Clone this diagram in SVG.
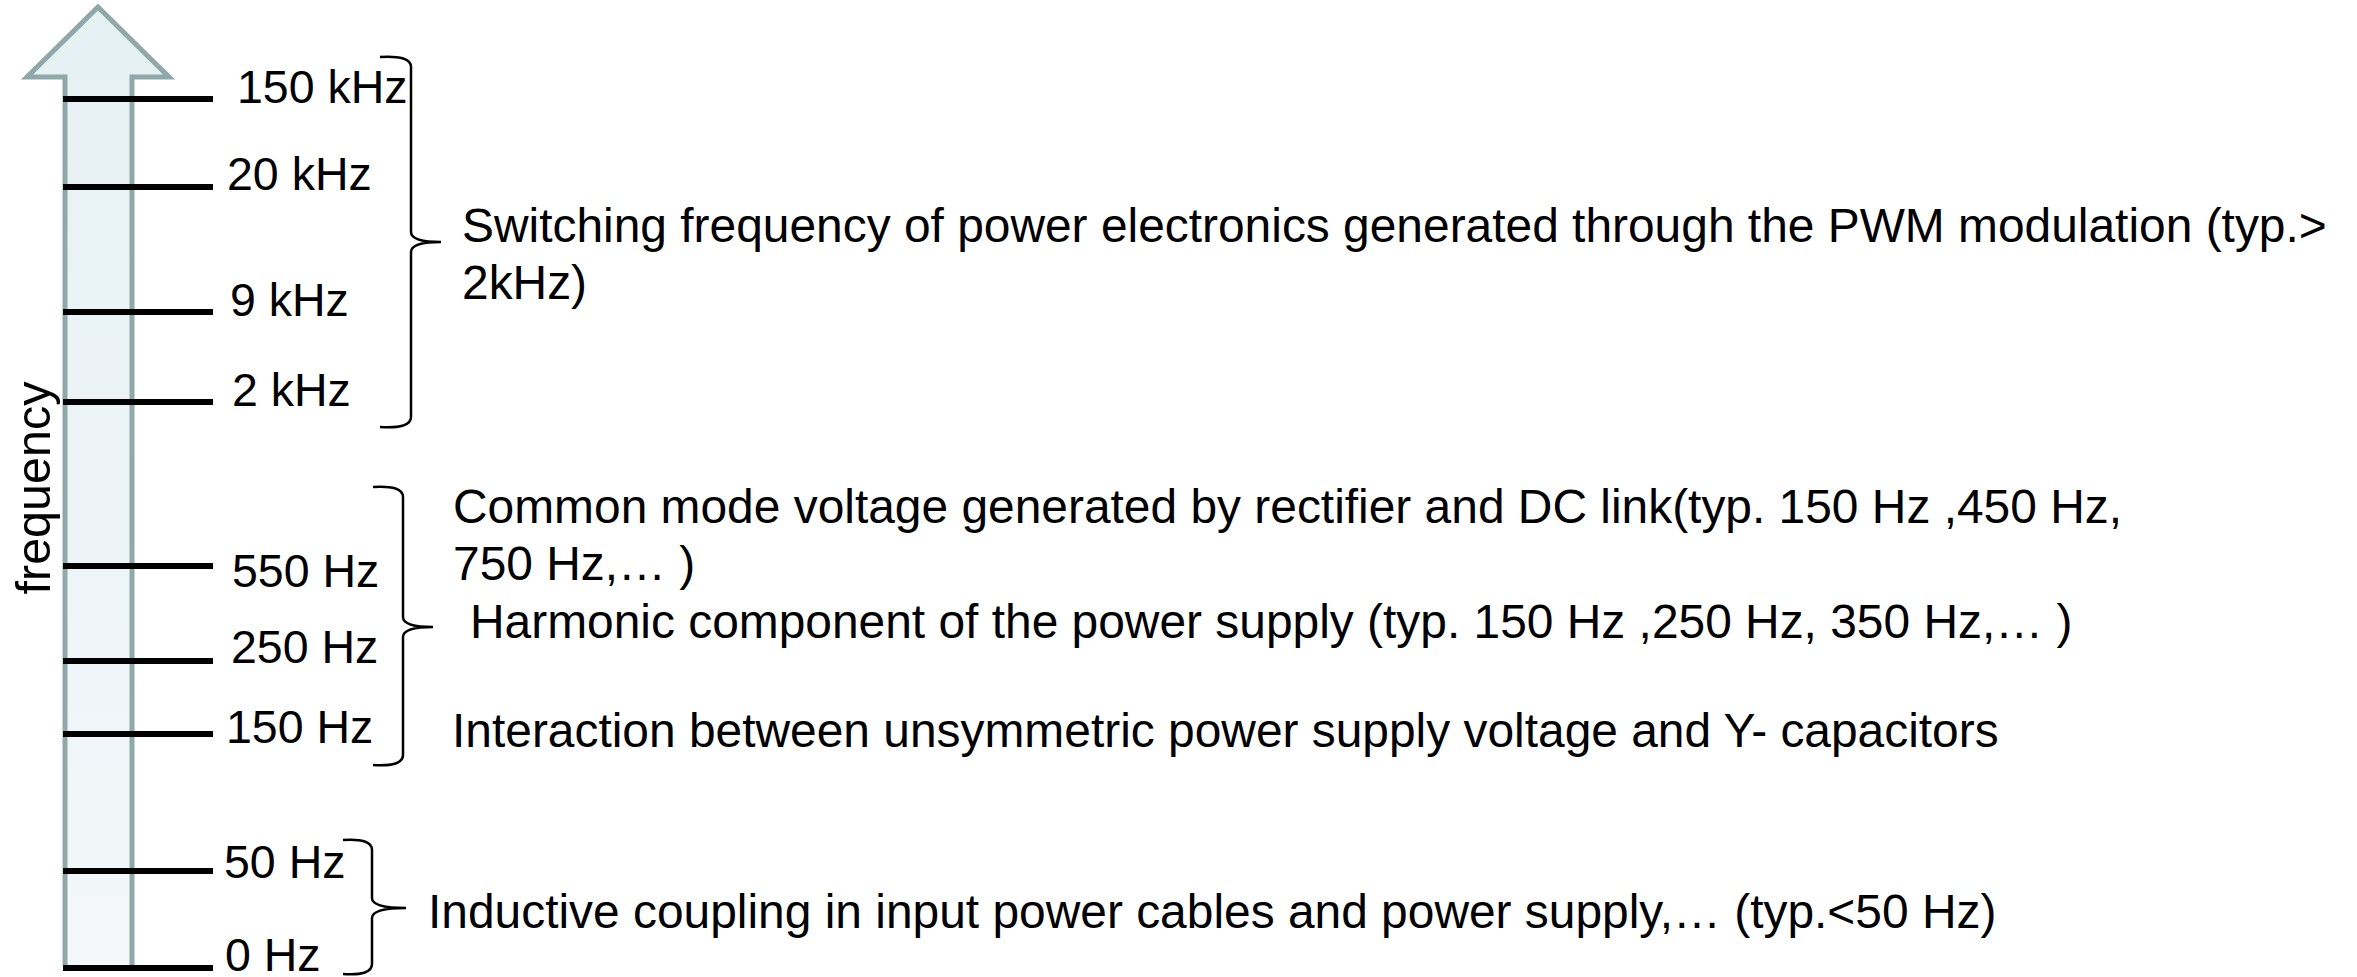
<svg xmlns="http://www.w3.org/2000/svg" width="2357" height="977" viewBox="0 0 2357 977">
<defs>
<linearGradient id="shaft" x1="0" y1="0" x2="0" y2="1">
<stop offset="0" stop-color="#E6F1F4"/>
<stop offset="1" stop-color="#F3F7FA"/>
</linearGradient>
<style>
.lbl{font-family:"Liberation Sans",Arial,sans-serif;font-size:46.5px;fill:#000}
.desc{font-family:"Liberation Sans",Arial,sans-serif;font-size:47.9px;fill:#000}
.tick{stroke:#000;stroke-width:6;fill:none}
.brace{stroke:#000;stroke-width:2.5;fill:none}
</style>
</defs>
<rect width="2357" height="977" fill="#fff"/>
<g id="axis">
<path d="M65,965 L65,77 L27,77 L98,7 L169,77 L132,77 L132,965" fill="url(#shaft)" stroke="#8FA8AA" stroke-width="5" stroke-linejoin="miter"/>
<text class="lbl" style="font-size:48.5px" transform="translate(50,488) rotate(-90)" text-anchor="middle">frequency</text>
</g>
<g id="ticks">
<line class="tick" x1="63" y1="99" x2="213" y2="99"/>
<line class="tick" x1="63" y1="187" x2="213" y2="187"/>
<line class="tick" x1="63" y1="312" x2="213" y2="312"/>
<line class="tick" x1="63" y1="402" x2="213" y2="402"/>
<line class="tick" x1="63" y1="566" x2="213" y2="566"/>
<line class="tick" x1="63" y1="661" x2="213" y2="661"/>
<line class="tick" x1="63" y1="734" x2="213" y2="734"/>
<line class="tick" x1="63" y1="871" x2="213" y2="871"/>
<line class="tick" x1="63" y1="968" x2="213" y2="968"/>
</g>
<g id="labels">
<text class="lbl" x="237" y="103">150 kHz</text>
<text class="lbl" x="227" y="190">20 kHz</text>
<text class="lbl" x="230" y="316">9 kHz</text>
<text class="lbl" x="232" y="406">2 kHz</text>
<text class="lbl" x="232" y="587">550 Hz</text>
<text class="lbl" x="231" y="663">250 Hz</text>
<text class="lbl" x="226" y="743">150 Hz</text>
<text class="lbl" x="224" y="878">50 Hz</text>
<text class="lbl" x="225" y="971">0 Hz</text>
</g>
<g id="connectors">
<path class="brace" d="M380,57 Q411,55 411,67 L411,232 Q411,242 441,242 Q411,242 411,252 L411,417 Q411,429 380,427"/>
<path class="brace" d="M373,487 Q403,485 403,497 L403,617 Q403,627 433,627 Q403,627 403,637 L403,755 Q403,767 373,765"/>
<path class="brace" d="M343,840 Q372,838 372,850 L372,898 Q372,908 406,908 Q372,908 372,918 L372,964 Q372,976 343,974"/>
</g>
<g id="switching">
<text class="desc" x="462" y="242">Switching frequency of power electronics generated through the PWM modulation (typ.&gt;</text>
<text class="desc" x="462" y="299">2kHz)</text>
</g>
<g id="common-mode">
<text class="desc" x="453" y="523">Common mode voltage generated by rectifier and DC link(typ. 150 Hz ,450 Hz,</text>
<text class="desc" x="453" y="580">750 Hz,… )</text>
</g>
<g id="harmonic">
<text class="desc" x="470" y="638">Harmonic component of the power supply (typ. 150 Hz ,250 Hz, 350 Hz,… )</text>
</g>
<g id="interaction">
<text class="desc" x="452" y="747">Interaction between unsymmetric power supply voltage and Y- capacitors</text>
</g>
<g id="inductive">
<text class="desc" x="428" y="928">Inductive coupling in input power cables and power supply,… (typ.&lt;50 Hz)</text>
</g>
</svg>
